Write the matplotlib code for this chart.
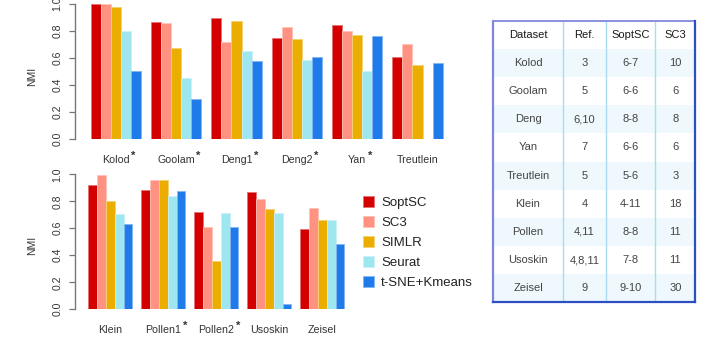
import matplotlib
matplotlib.use('Agg')
import matplotlib.pyplot as plt
from matplotlib.patches import Rectangle, Patch
import numpy as np

plt.rcParams['font.family'] = ['Liberation Sans', 'DejaVu Sans']

# ---------------- data ----------------
methods = ['SoptSC', 'SC3', 'SIMLR', 'Seurat', 't-SNE+Kmeans']
method_colors = ['#d40000', '#ff9280', '#ebae00', '#9ee6f0', '#1e7be9']

top_datasets = ['Kolod', 'Goolam', 'Deng1', 'Deng2', 'Yan', 'Treutlein']
top_starred = [True, True, True, True, True, False]
top_soptsc = [1.0, 0.868, 0.894, 0.750, 0.842, 0.608]
top_sc3 = [1.0, 0.857, 0.721, 0.827, 0.798, 0.704]
top_simlr = [0.975, 0.672, 0.871, 0.738, 0.770, 0.547]
top_seurat = [0.800, 0.450, 0.654, 0.583, 0.507, 0.0]
top_tsne = [0.504, 0.295, 0.580, 0.608, 0.763, 0.566]

bot_datasets = ['Klein', 'Pollen1', 'Pollen2', 'Usoskin', 'Zeisel']
bot_starred = [False, True, True, False, False]
bot_soptsc = [0.919, 0.887, 0.722, 0.869, 0.594]
bot_sc3 = [0.998, 0.956, 0.608, 0.818, 0.754]
bot_simlr = [0.805, 0.956, 0.355, 0.741, 0.665]
bot_seurat = [0.707, 0.842, 0.717, 0.712, 0.665]
bot_tsne = [0.633, 0.879, 0.613, 0.037, 0.485]

yticks = [0.0, 0.2, 0.4, 0.6, 0.8, 1.0]
ytick_labels = ['0.0', '0.2', '0.4', '0.6', '0.8', '1.0']
y_label = 'NMI'

table_header = ['Dataset', 'Ref.', 'SoptSC', 'SC3']
table_dataset = ['Kolod', 'Goolam', 'Deng', 'Yan', 'Treutlein', 'Klein', 'Pollen', 'Usoskin', 'Zeisel']
table_ref = ['3', '5', '6,10', '7', '5', '4', '4,11', '4,8,11', '9']
table_soptsc = ['6-7', '6-6', '8-8', '6-6', '5-6', '4-11', '8-8', '7-8', '9-10']
table_sc3 = ['10', '6', '8', '6', '3', '18', '11', '11', '30']

# ---------------- layout helpers ----------------
W, H = 720, 340
fig = plt.figure(figsize=(W / 100, H / 100), dpi=100)


def px_axes(left, top, right, bottom):
    return fig.add_axes([left / W, 1 - bottom / H, (right - left) / W, (bottom - top) / H])


def lighten(c, f=0.45):
    r, g, b, _ = matplotlib.colors.to_rgba(c)
    return (r + (1 - r) * f, g + (1 - g) * f, b + (1 - b) * f)


def bar_panel(ax, names, starred, series, xlim):
    n = len(names)
    base = 1 + 6 * np.arange(n)
    for j, (vals, c) in enumerate(zip(series, method_colors)):
        ax.bar(base + j + 0.5, vals, width=1.0, color=c, edgecolor=lighten(c), linewidth=0.6)
    ax.set_xlim(*xlim)
    ax.set_ylim(0, 1)
    for s in ['top', 'right', 'bottom']:
        ax.spines[s].set_visible(False)
    ax.spines['left'].set_bounds(0, 1)
    ax.spines['left'].set_color('#777777')
    ax.spines['left'].set_linewidth(1.0)
    ax.set_xticks([])
    ax.set_yticks(yticks)
    ax.set_yticklabels(ytick_labels, rotation=90, va='center')
    ax.tick_params(axis='y', length=4.3, width=0.9, color='#777777', pad=4.6,
                   labelsize=7.5, labelcolor='#333333')
    trans = ax.get_xaxis_transform()
    for g, (name, st) in enumerate(zip(names, starred)):
        t = ax.text(base[g] + 2.5, -0.173, name, transform=trans, ha='center', va='baseline',
                    fontsize=7.7, color='#333333', clip_on=False)
        if st:
            ax.annotate('*', xy=(1, 0), xycoords=t, xytext=(1.0, 4.2), textcoords='offset points',
                        ha='left', va='baseline', fontsize=8, color='#333333', fontweight='bold')


ax_top = px_axes(75, 3.9, 450, 139.3)
bar_panel(ax_top, top_datasets, top_starred,
          [top_soptsc, top_sc3, top_simlr, top_seurat, top_tsne], (-0.561, 36.73))

ax_bot = px_axes(75, 174.3, 350, 309.3)
bar_panel(ax_bot, bot_datasets, bot_starred,
          [bot_soptsc, bot_sc3, bot_simlr, bot_seurat, bot_tsne], (-0.506, 30.64))

fig.text(32 / W, 1 - 76 / H, y_label, rotation=90, ha='center', va='center', fontsize=7.5, color='#333333')
fig.text(32 / W, 1 - 245 / H, y_label, rotation=90, ha='center', va='center', fontsize=7.5, color='#333333')

# ---------------- legend ----------------
handles = [Patch(facecolor=c, edgecolor=lighten(c), linewidth=0.6) for c in method_colors]
fig.legend(handles, methods, loc='upper left', bbox_to_anchor=(362.5 / W, 1 - 196 / H),
           frameon=False, fontsize=9.5, handlelength=0.9, handleheight=0.9,
           handletextpad=0.5, labelspacing=0.52, borderpad=0, borderaxespad=0,
           labelcolor='#222222')

# ---------------- table ----------------
tx0, tx1, ty0, ty1 = 493.3, 695.3, 20.7, 302.3
ax_t = px_axes(tx0, ty0, tx1, ty1)
ax_t.set_xlim(tx0, tx1)
ax_t.set_ylim(ty1, ty0)
ax_t.axis('off')
col_edges = [tx0, 562.7, 606.0, 655.3, tx1]
nrows = len(table_dataset) + 1
rh = (ty1 - ty0) / nrows
for r in range(1, nrows, 2):
    ax_t.add_patch(Rectangle((tx0, ty0 + r * rh), tx1 - tx0, rh, facecolor='#eef8fd', edgecolor='none'))
for xe in col_edges[1:-1]:
    ax_t.plot([xe, xe], [ty0, ty1], color='#a9dcf2', lw=1.0)
ax_t.plot([tx0, tx0], [ty0, ty1], color='#7f87dc', lw=1.6, clip_on=False)
ax_t.plot([tx0, tx1], [ty0, ty0], color='#8a90e0', lw=1.4, clip_on=False)
ax_t.plot([tx1, tx1], [ty0, ty1], color='#2c4fc4', lw=1.6, clip_on=False)
ax_t.plot([tx0, tx1], [ty1, ty1], color='#2c4fc4', lw=1.6, clip_on=False)
centers = [(col_edges[i] + col_edges[i + 1]) / 2 for i in range(4)]
for i, h in enumerate(table_header):
    ax_t.text(centers[i], ty0 + 0.5 * rh, h, ha='center', va='center', fontsize=8, color='#1a1a1a')
for r, row in enumerate(zip(table_dataset, table_ref, table_soptsc, table_sc3)):
    for i, v in enumerate(row):
        ax_t.text(centers[i], ty0 + (r + 1.5) * rh, v, ha='center', va='center', fontsize=8,
                  color='#444444')

fig.savefig('out.png', dpi=100)
